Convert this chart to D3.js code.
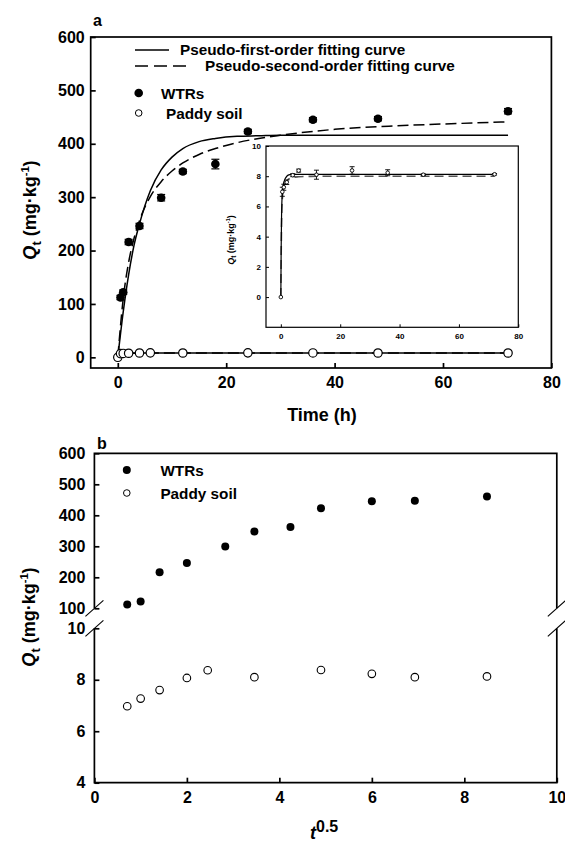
<!DOCTYPE html>
<html><head><meta charset="utf-8">
<script src="https://cdn.jsdelivr.net/npm/d3@7"></script>
<style>
body{margin:0;background:#fff}
text{font-family:"Liberation Sans",Arial,sans-serif;font-weight:bold;fill:#000}
</style></head>
<body><svg id="c" width="565" height="844"></svg>
<script>
// ---------- data ----------
const timeWTR = [0.5, 1, 2, 4, 8, 12, 18, 24, 36, 48, 72];
const qWTR = [112, 122, 216, 246, 299, 348, 362, 423, 445, 447, 461];
const errWTR = [4, 4, 5, 5, 6, 4, 9, 4, 4, 4, 5];
const timePaddy = [0, 0.5, 1, 2, 4, 6, 12, 24, 36, 48, 72];
const qPaddy = [0, 6.97, 7.27, 7.6, 8.07, 8.37, 8.1, 8.38, 8.23, 8.1, 8.13];
const errPaddy = [0, 0.3, 0.2, 0.15, 0.1, 0.1, 0.3, 0.25, 0.2, 0.05, 0.05];
const fitTime = [0, 1, 2, 3, 4, 6, 8, 10, 12, 15, 18, 22, 26, 30, 40, 50, 60, 72];
const pfoWTR = [0, 85, 155, 210, 250, 312, 351, 375, 391, 404, 410, 414, 415, 416, 416, 416, 416, 416];
const psoWTR = [0, 110, 178, 223, 256, 301, 329, 349, 364, 380, 391, 402, 410, 416, 427, 433, 437, 441];
const fitTimePaddy = [0, 0.1, 0.25, 0.5, 1, 2, 3, 4, 6, 10, 20, 40, 72];
const pfoPaddy = [0, 3.0, 5.5, 6.9, 7.6, 8.0, 8.1, 8.12, 8.12, 8.12, 8.12, 8.12, 8.12];
const psoPaddy = [0, 2.5, 5.0, 6.5, 7.3, 7.7, 7.85, 7.92, 7.96, 7.99, 8.0, 8.0, 8.0];
const sqrtTWTR = [0.71, 1, 1.41, 2, 2.83, 3.46, 4.24, 4.9, 6, 6.93, 8.49];
const sqrtTPaddy = [0.71, 1, 1.41, 2, 2.45, 3.46, 4.9, 6, 6.93, 8.49];
const qPaddyB = [6.97, 7.27, 7.6, 8.07, 8.37, 8.1, 8.38, 8.23, 8.1, 8.13];
const ticksA_x = [0, 20, 40, 60, 80];
const ticksA_y = [0, 100, 200, 300, 400, 500, 600];
const ticksIn_x = [0, 20, 40, 60, 80];
const ticksIn_y = [0, 2, 4, 6, 8, 10];
const ticksB_x = [0, 2, 4, 6, 8, 10];
const ticksB_yHigh = [100, 200, 300, 400, 500, 600];
const ticksB_yLow = [4, 6, 8, 10];
const legendLines = ["Pseudo-first-order fitting curve", "Pseudo-second-order fitting curve"];
const legendSeries = ["WTRs", "Paddy soil"];

const svg = d3.select("#c");
const SW = 1.7;
const TF = "16px";

function yTitle(g, x, y, size, gap) {
  const t = g.append("text").attr("transform", `translate(${x},${y}) rotate(-90)`)
    .attr("text-anchor", "middle").style("font-size", size + "px");
  t.append("tspan").text("Q").style("font-style", "italic");
  t.append("tspan").text("t").attr("dy", size * 0.25).style("font-size", (size * 0.72) + "px");
  t.append("tspan").text(gap + "(mg·kg").attr("dy", -size * 0.25);
  t.append("tspan").text("-1").attr("dy", -size * 0.4).style("font-size", (size * 0.62) + "px");
  t.append("tspan").text(")").attr("dy", size * 0.4);
}
const styleAxis = (fs, sw) => g => { g.select(".domain").remove(); g.selectAll("text").style("font-size", fs).attr("font-family", null); g.selectAll("line").attr("stroke-width", sw); };

// ---------- Panel a ----------
const xA = d3.scaleLinear().domain([-5, 80]).range([90.7, 551.4]);
const yA = d3.scaleLinear().domain([-20, 600]).range([368, 37]);
const gA = svg.append("g");
gA.append("rect").attr("x", xA(-5)).attr("y", yA(600)).attr("width", xA(80) - xA(-5)).attr("height", yA(-20) - yA(600))
  .attr("fill", "none").attr("stroke", "#000").attr("stroke-width", SW);
gA.append("g").attr("transform", `translate(0,${yA(-20)})`)
  .call(d3.axisBottom(xA).tickValues(ticksA_x).tickSize(-5).tickPadding(9).tickFormat(d3.format("d")))
  .call(styleAxis(TF, SW));
gA.append("g").attr("transform", `translate(${xA(-5)},0)`)
  .call(d3.axisLeft(yA).tickValues(ticksA_y).tickSize(-5).tickPadding(6).tickFormat(d3.format("d")))
  .call(styleAxis(TF, SW));

const lineA = (xs, ys) => d3.line().x((d, i) => xA(xs[i])).y((d, i) => yA(ys[i])).curve(d3.curveMonotoneX)(ys);
gA.append("path").attr("d", lineA(fitTime, pfoWTR)).attr("fill", "none").attr("stroke", "#000").attr("stroke-width", 1.5);
gA.append("path").attr("d", lineA(fitTime, psoWTR)).attr("fill", "none").attr("stroke", "#000").attr("stroke-width", 1.5).attr("stroke-dasharray", "11,5");
gA.append("path").attr("d", lineA(fitTimePaddy, pfoPaddy)).attr("fill", "none").attr("stroke", "#000").attr("stroke-width", 1.5);
gA.append("path").attr("d", lineA(fitTimePaddy, psoPaddy)).attr("fill", "none").attr("stroke", "#000").attr("stroke-width", 1.5).attr("stroke-dasharray", "11,5");

// WTR error bars + points
timeWTR.forEach((t, i) => {
  const x = xA(t), y1 = yA(qWTR[i] - errWTR[i]), y2 = yA(qWTR[i] + errWTR[i]);
  gA.append("line").attr("x1", x).attr("x2", x).attr("y1", y1).attr("y2", y2).attr("stroke", "#000").attr("stroke-width", 1.2);
  [y1, y2].forEach(yy => gA.append("line").attr("x1", x - 4).attr("x2", x + 4).attr("y1", yy).attr("y2", yy).attr("stroke", "#000").attr("stroke-width", 1.2));
});
gA.selectAll(".wa").data(qWTR).join("circle").attr("cx", (d, i) => xA(timeWTR[i])).attr("cy", d => yA(d)).attr("r", 4.3).attr("fill", "#000");
gA.selectAll(".pa").data(qPaddy).join("circle").attr("cx", (d, i) => xA(timePaddy[i])).attr("cy", d => yA(d)).attr("r", 4.2)
  .attr("fill", "#fff").attr("stroke", "#000").attr("stroke-width", 1.2);

// legend a
gA.append("line").attr("x1", 135).attr("x2", 169).attr("y1", 50).attr("y2", 50).attr("stroke", "#000").attr("stroke-width", 1.4);
gA.append("line").attr("x1", 135).attr("x2", 186).attr("y1", 66).attr("y2", 66).attr("stroke", "#000").attr("stroke-width", 1.4).attr("stroke-dasharray", "13,6");
gA.append("text").attr("x", 180).attr("y", 55).style("font-size", "15.3px").text(legendLines[0]);
gA.append("text").attr("x", 205).attr("y", 71).style("font-size", "15.3px").text(legendLines[1]);
gA.append("circle").attr("cx", 138.7).attr("cy", 93).attr("r", 4.3).attr("fill", "#000");
gA.append("text").attr("x", 161).attr("y", 98.5).style("font-size", "15.3px").text(legendSeries[0]);
gA.append("circle").attr("cx", 138.7).attr("cy", 113).attr("r", 3.3).attr("fill", "#fff").attr("stroke", "#000").attr("stroke-width", 1);
gA.append("text").attr("x", 166).attr("y", 118.5).style("font-size", "15.3px").text(legendSeries[1]);

gA.append("text").attr("x", 93).attr("y", 26).style("font-size", "16px").text("a");
gA.append("text").attr("x", 322).attr("y", 421).attr("text-anchor", "middle").style("font-size", "18px").text("Time (h)");
yTitle(gA, 36, 210, 18, " ");

// ---------- Inset ----------
const xI = d3.scaleLinear().domain([-5, 80]).range([266, 518.3]);
const yI = d3.scaleLinear().domain([-2, 10]).range([327.3, 146]);
const gI = svg.append("g");
gI.append("rect").attr("x", xI(-5)).attr("y", yI(10)).attr("width", xI(80) - xI(-5)).attr("height", yI(-2) - yI(10))
  .attr("fill", "#fff").attr("stroke", "#000").attr("stroke-width", 1.2);
gI.append("g").attr("transform", `translate(0,${yI(-2)})`)
  .call(d3.axisBottom(xI).tickValues(ticksIn_x).tickSize(-3).tickPadding(6).tickFormat(d3.format("d")))
  .call(styleAxis("8px", 1));
gI.append("g").attr("transform", `translate(${xI(-5)},0)`)
  .call(d3.axisLeft(yI).tickValues(ticksIn_y).tickSize(-3).tickPadding(5).tickFormat(d3.format("d")))
  .call(styleAxis("8px", 1));
const lineI = (xs, ys) => d3.line().x((d, i) => xI(xs[i])).y((d, i) => yI(ys[i])).curve(d3.curveMonotoneX)(ys);
gI.append("path").attr("d", lineI(fitTimePaddy, psoPaddy)).attr("fill", "none").attr("stroke", "#555").attr("stroke-width", 1.6).attr("stroke-dasharray", "9,5");
gI.append("path").attr("d", lineI(fitTimePaddy, pfoPaddy)).attr("fill", "none").attr("stroke", "#000").attr("stroke-width", 1.2);
timePaddy.forEach((t, i) => {
  if (!errPaddy[i]) return;
  const x = xI(t), y1 = yI(qPaddy[i] - errPaddy[i]), y2 = yI(qPaddy[i] + errPaddy[i]);
  gI.append("line").attr("x1", x).attr("x2", x).attr("y1", y1).attr("y2", y2).attr("stroke", "#000").attr("stroke-width", 0.9);
  [y1, y2].forEach(yy => gI.append("line").attr("x1", x - 2.5).attr("x2", x + 2.5).attr("y1", yy).attr("y2", yy).attr("stroke", "#000").attr("stroke-width", 0.9));
});
gI.selectAll(".pi").data(qPaddy).join("circle").attr("cx", (d, i) => xI(timePaddy[i])).attr("cy", d => yI(d)).attr("r", 1.8)
  .attr("fill", "#fff").attr("stroke", "#000").attr("stroke-width", 0.9);
yTitle(gI, 234, 240, 9, " ");

// ---------- Panel b ----------
const xB = d3.scaleLinear().domain([0, 10]).range([94.4, 556.8]);
const yBH = d3.scaleLinear().domain([100, 600]).range([608.3, 453.3]);
const yBL = d3.scaleLinear().domain([4, 10]).range([782.7, 628.3]);
const gB = svg.append("g");
const L = xB(0), R = xB(10), T = yBH(600), Bt = yBL(4);
const path = (pts) => d3.line()(pts);
gB.append("path").attr("d", path([[L, yBH(100)], [L, T], [R, T], [R, yBH(100)]])).attr("fill", "none").attr("stroke", "#000").attr("stroke-width", SW);
gB.append("path").attr("d", path([[L, yBL(10)], [L, Bt], [R, Bt], [R, yBL(10)]])).attr("fill", "none").attr("stroke", "#000").attr("stroke-width", SW);
[[L, yBH(100)], [L, yBL(10)], [R, yBH(100)], [R, yBL(10)]].forEach(([cx, cy]) => {
  gB.append("line").attr("x1", cx - 9).attr("x2", cx + 9).attr("y1", cy + 8).attr("y2", cy - 8).attr("stroke", "#000").attr("stroke-width", 1.1);
});
gB.append("g").attr("transform", `translate(0,${Bt})`)
  .call(d3.axisBottom(xB).tickValues(ticksB_x).tickSize(-5).tickPadding(9).tickFormat(d3.format("d")))
  .call(styleAxis(TF, SW));
gB.append("g").attr("transform", `translate(${L},0)`)
  .call(d3.axisLeft(yBH).tickValues(ticksB_yHigh).tickSize(-5).tickPadding(9).tickFormat(d3.format("d")))
  .call(styleAxis(TF, SW));
gB.append("g").attr("transform", `translate(${L},0)`)
  .call(d3.axisLeft(yBL).tickValues(ticksB_yLow).tickSize(-5).tickPadding(9).tickFormat(d3.format("d")))
  .call(styleAxis(TF, SW));
gB.selectAll(".wb").data(qWTR).join("circle").attr("cx", (d, i) => xB(sqrtTWTR[i])).attr("cy", d => yBH(d)).attr("r", 4).attr("fill", "#000");
gB.selectAll(".pb").data(qPaddyB).join("circle").attr("cx", (d, i) => xB(sqrtTPaddy[i])).attr("cy", d => yBL(d)).attr("r", 3.8)
  .attr("fill", "#fff").attr("stroke", "#000").attr("stroke-width", 1.1);
// legend b
gB.append("circle").attr("cx", 126.8).attr("cy", 470).attr("r", 4).attr("fill", "#000");
gB.append("text").attr("x", 160.4).attr("y", 475.5).style("font-size", "15.3px").text(legendSeries[0]);
gB.append("circle").attr("cx", 126.8).attr("cy", 493).attr("r", 3.3).attr("fill", "#fff").attr("stroke", "#000").attr("stroke-width", 1);
gB.append("text").attr("x", 160.4).attr("y", 498.5).style("font-size", "15.3px").text(legendSeries[1]);
gB.append("text").attr("x", 97).attr("y", 449).style("font-size", "16px").text("b");
yTitle(gB, 35, 617, 18, "  ");
const tt = gB.append("text").attr("x", 310).attr("y", 839).style("font-size", "18px");
tt.append("tspan").text("t").style("font-style", "italic");
tt.append("tspan").text("0.5").attr("dy", -7).style("font-size", "16px");
</script></body></html>
